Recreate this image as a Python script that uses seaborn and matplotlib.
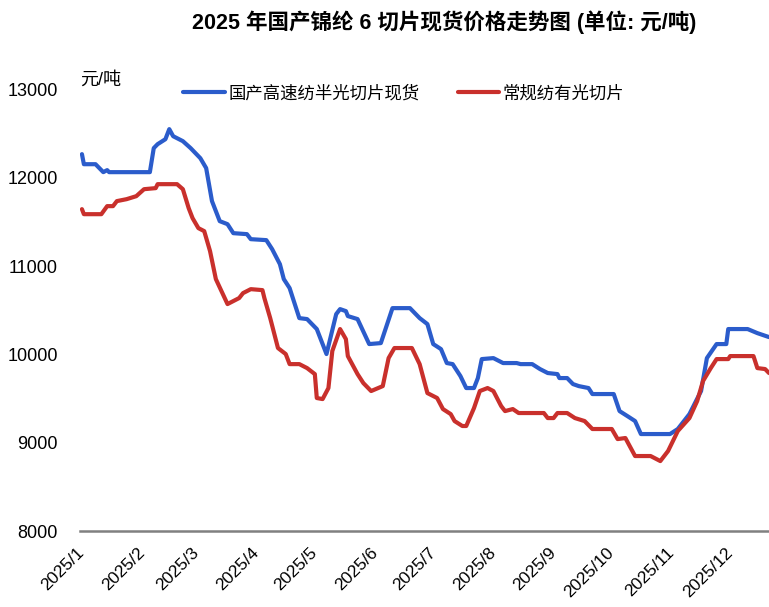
import numpy as np
import pandas as pd
import seaborn as sns
import matplotlib.pyplot as plt

# price data (day offset from 2025-01-01, yuan/ton)
blue_days = [0, 1, 7, 11, 13, 14, 35, 37, 39, 43, 45, 47, 52, 56, 61, 64, 67, 71, 75, 78,
             85, 87, 95, 98, 102, 104, 107, 112, 116, 121, 126, 131, 133, 136, 137, 142, 148,
             154, 160, 169, 174, 178, 181, 185, 188, 191, 195, 198, 202, 204, 206, 212, 217,
             224, 226, 232, 236, 240, 245, 246, 250, 253, 256, 261, 263, 274, 277, 281, 285,
             288, 303, 307, 313, 319, 322, 327, 332, 333, 343, 348, 354]
blue_vals = [12268, 12154, 12154, 12064, 12087, 12064, 12064, 12336, 12381, 12437, 12551,
             12471, 12415, 12336, 12222, 12110, 11736, 11509, 11475, 11373, 11362, 11305,
             11294, 11192, 11022, 10853, 10751, 10411, 10400, 10287, 10004, 10456, 10513,
             10490, 10434, 10400, 10117, 10128, 10524, 10524, 10411, 10343, 10117, 10060,
             9902, 9890, 9755, 9619, 9619, 9732, 9947, 9958, 9902, 9902, 9890, 9890, 9834,
             9789, 9777, 9732, 9732, 9664, 9641, 9619, 9551, 9551, 9358, 9302, 9245, 9098,
             9098, 9155, 9324, 9585, 9958, 10117, 10117, 10287, 10287, 10241, 10196]

red_days = [0, 1, 10, 13, 16, 18, 23, 28, 32, 38, 39, 49, 52, 55, 57, 60, 63, 66, 69, 75,
            78, 81, 83, 87, 93, 94, 97, 101, 105, 107, 112, 116, 120, 121, 124, 127, 129,
            133, 136, 137, 142, 145, 149, 155, 158, 161, 170, 174, 178, 183, 186, 190, 192,
            196, 198, 202, 205, 209, 212, 216, 218, 222, 225, 238, 240, 243, 245, 250, 254,
            259, 263, 273, 276, 280, 285, 293, 298, 302, 307, 313, 317, 320, 324, 327, 333,
            334, 346, 348, 352, 354]
red_vals = [11645, 11588, 11588, 11679, 11679, 11736, 11758, 11792, 11871, 11883, 11928,
            11928, 11871, 11656, 11543, 11430, 11396, 11170, 10853, 10570, 10604, 10638,
            10694, 10739, 10728, 10638, 10411, 10072, 10004, 9890, 9890, 9845, 9777, 9506,
            9494, 9619, 10038, 10287, 10173, 9981, 9777, 9675, 9585, 9641, 9958, 10072,
            10072, 9890, 9562, 9506, 9381, 9324, 9245, 9189, 9189, 9392, 9585, 9619, 9585,
            9415, 9358, 9381, 9336, 9336, 9279, 9279, 9336, 9336, 9279, 9245, 9155, 9155,
            9041, 9053, 8849, 8849, 8792, 8906, 9132, 9279, 9472, 9698, 9845, 9947, 9947,
            9981, 9981, 9845, 9834, 9789]

series_names = ['国产高速纺半光切片现货', '常规纺有光切片']
series_colors = ['#2B5CCB', '#C9302C']
month_starts = ['2025-01-01', '2025-02-01', '2025-03-01', '2025-04-01', '2025-05-01',
                '2025-06-01', '2025-07-01', '2025-08-01', '2025-09-01', '2025-10-01',
                '2025-11-01', '2025-12-01']
month_labels = ['2025/1', '2025/2', '2025/3', '2025/4', '2025/5', '2025/6',
                '2025/7', '2025/8', '2025/9', '2025/10', '2025/11', '2025/12']
y_ticks = [8000, 9000, 10000, 11000, 12000, 13000]

start = pd.Timestamp('2025-01-01')
df = pd.concat([
    pd.DataFrame({'date': start + pd.to_timedelta(blue_days, unit='D'),
                  'price': blue_vals, 'series': series_names[0]}),
    pd.DataFrame({'date': start + pd.to_timedelta(red_days, unit='D'),
                  'price': red_vals, 'series': series_names[1]}),
])

sns.set_theme(style='white')
plt.rcParams['font.family'] = ['Liberation Sans', 'Noto Sans CJK SC', 'DejaVu Sans']
plt.rcParams['text.color'] = 'black'
plt.rcParams['xtick.color'] = 'black'
plt.rcParams['ytick.color'] = 'black'

fig = plt.figure(figsize=(7.69, 6.07), dpi=100)
ax = fig.add_axes([80 / 769, 76 / 607, 689 / 769, 441.5 / 607])

sns.lineplot(data=df, x='date', y='price', hue='series', hue_order=series_names,
             palette=dict(zip(series_names, series_colors)), linewidth=3, ax=ax)

ax.set_ylim(8000, 13000)
ax.set_xlim(start - pd.Timedelta(days=1), start + pd.Timedelta(days=354))
ax.set_yticks(y_ticks)
ax.set_yticklabels([str(v) for v in y_ticks], fontsize=13)
ax.set_xticks(pd.to_datetime(month_starts))
ax.set_xticklabels(month_labels, fontsize=12.5, rotation=45, ha='right',
                   va='center', rotation_mode='anchor')
ax.tick_params(axis='x', length=0, pad=14)
ax.tick_params(axis='y', length=0, pad=16)
ax.set_xlabel('')
ax.set_ylabel('')
ax.grid(False)

for side in ['top', 'right', 'left']:
    ax.spines[side].set_visible(False)
ax.spines['bottom'].set_color('#808080')
ax.spines['bottom'].set_linewidth(1.8)

sns.move_legend(ax, 'center', bbox_to_anchor=(0.47, 0.992), ncol=2, frameon=False,
                title=None, fontsize=12.5, handlelength=2.4, handletextpad=0.2,
                columnspacing=2.2)

fig.text(80 / 769, 1 - 80 / 607, '元/吨', fontsize=13, ha='left', va='center')
fig.suptitle('2025 年国产锦纶 6 切片现货价格走势图 (单位: 元/吨)', x=444 / 769,
             y=1 - 22 / 607, va='center', fontsize=15.5, fontweight='bold')

fig.savefig('out.png', dpi=100)
